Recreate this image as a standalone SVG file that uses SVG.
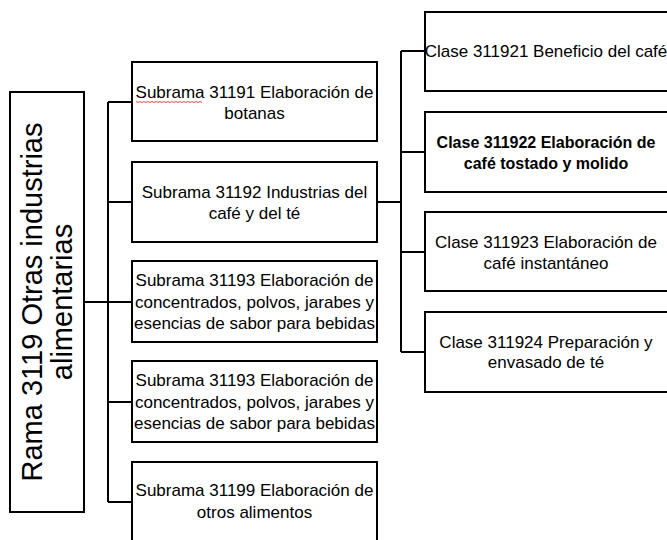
<svg xmlns="http://www.w3.org/2000/svg" width="667" height="540" viewBox="0 0 667 540">
<style>
.box{fill:#fff;stroke:#000;stroke-width:2}
.t{font-family:"Liberation Sans",Arial,sans-serif;font-size:17px;fill:#000;text-anchor:middle}
.b{font-weight:bold;font-size:16px}
.main{font-family:"Liberation Sans",Arial,sans-serif;font-size:29px;fill:#000;text-anchor:middle}
.c{fill:none;stroke:#000;stroke-width:2}
</style>
<rect width="667" height="540" fill="#fff"/>
<g id="connectors">
<path class="c" d="M84,302H132M108,102V502M108,102H132M108,202H132M108,402H132M108,502H132"/>
<path class="c" d="M377,202H401M401,51V352M401,51H425M401,152H425M401,252H425M401,352H425"/>
</g>
<g id="rama">
<rect class="box" x="10" y="92" width="74" height="420"/>
<text class="main" transform="translate(42,302) rotate(-90)"><tspan x="0" y="0">Rama 3119 Otras industrias</tspan><tspan x="0" y="30">alimentarias</tspan></text>
</g>
<g id="s31191">
<rect class="box" x="132" y="62" width="245" height="79"/>
<text class="t"><tspan x="254.5" y="98">Subrama 31191 Elaboración de</tspan><tspan x="254.5" y="119">botanas</tspan></text>
<path d="M136,101.5l2,1l2,-1l2,1l2,-1l2,1l2,-1l2,1l2,-1l2,1l2,-1l2,1l2,-1l2,1l2,-1l2,1l2,-1l2,1l2,-1l2,1l2,-1l2,1l2,-1l2,1l2,-1l2,1l2,-1l2,1l2,-1l2,1l2,-1l2,1l2,-1l2,1" stroke="#e02020" stroke-width="0.8" fill="none"/>
</g>
<g id="s31192">
<rect class="box" x="132" y="162" width="245" height="80"/>
<text class="t"><tspan x="254.5" y="198">Subrama 31192 Industrias del</tspan><tspan x="254.5" y="219">café y del té</tspan></text>
</g>
<g id="s31193a">
<rect class="box" x="132" y="261" width="245" height="81"/>
<text class="t"><tspan x="254.5" y="286">Subrama 31193 Elaboración de</tspan><tspan x="254.5" y="308">concentrados, polvos, jarabes y</tspan><tspan x="254.5" y="329">esencias de sabor para bebidas</tspan></text>
</g>
<g id="s31193b">
<rect class="box" x="132" y="361" width="245" height="81"/>
<text class="t"><tspan x="254.5" y="386">Subrama 31193 Elaboración de</tspan><tspan x="254.5" y="408">concentrados, polvos, jarabes y</tspan><tspan x="254.5" y="429">esencias de sabor para bebidas</tspan></text>
</g>
<g id="s31199">
<rect class="box" x="132" y="462" width="245" height="82"/>
<text class="t"><tspan x="254.5" y="496">Subrama 31199 Elaboración de</tspan><tspan x="254.5" y="518">otros alimentos</tspan></text>
</g>
<g id="c311921">
<rect class="box" x="425" y="12" width="245" height="79"/>
<text class="t"><tspan x="546" y="57">Clase 311921 Beneficio del café</tspan></text>
</g>
<g id="c311922">
<rect class="box" x="425" y="112" width="245" height="80"/>
<text class="t b"><tspan x="546" y="148">Clase 311922 Elaboración de</tspan><tspan x="546" y="169">café tostado y molido</tspan></text>
</g>
<g id="c311923">
<rect class="box" x="425" y="212" width="245" height="79"/>
<text class="t"><tspan x="546" y="248">Clase 311923 Elaboración de</tspan><tspan x="546" y="269">café instantáneo</tspan></text>
</g>
<g id="c311924">
<rect class="box" x="425" y="312" width="245" height="80"/>
<text class="t"><tspan x="546" y="348">Clase 311924 Preparación y</tspan><tspan x="546" y="368">envasado de té</tspan></text>
</g>
</svg>
